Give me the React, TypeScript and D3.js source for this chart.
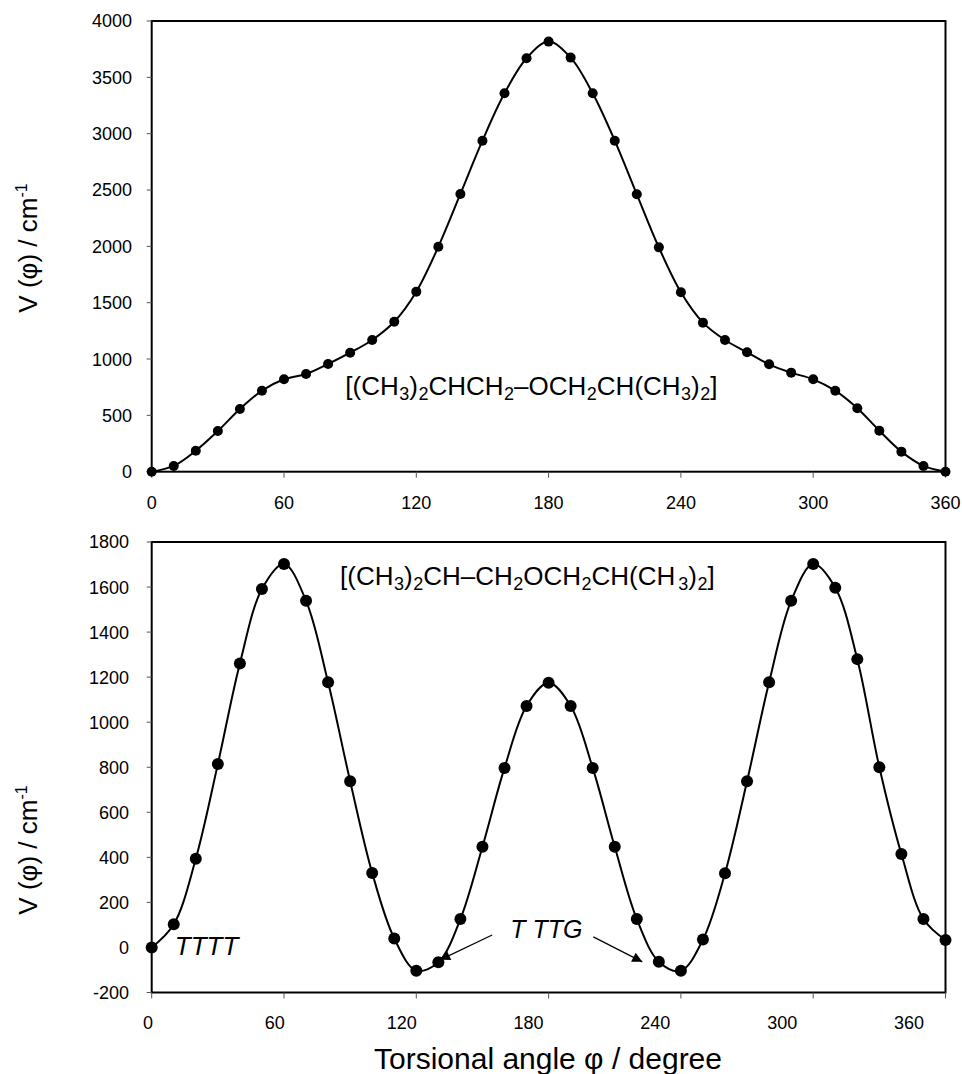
import React from "react";
import * as d3 from "d3";

const angles = [0, 10, 20, 30, 40, 50, 60, 70, 80, 90, 100, 110, 120, 130, 140, 150, 160, 170, 180, 190, 200, 210, 220, 230, 240, 250, 260, 270, 280, 290, 300, 310, 320, 330, 340, 350, 360];
const topValues = [0, 51, 186, 361, 556, 719, 820, 867, 956, 1056, 1169, 1331, 1598, 1997, 2465, 2938, 3358, 3669, 3817, 3675, 3358, 2938, 2462, 1991, 1592, 1323, 1169, 1060, 953, 879, 820, 719, 563, 364, 178, 51, 0];
const bottomValues = [0, 103, 394, 814, 1261, 1591, 1702, 1539, 1177, 738, 331, 40, -103, -66, 126, 447, 797, 1072, 1175, 1072, 797, 447, 126, -63, -103, 35, 329, 738, 1177, 1539, 1702, 1597, 1280, 800, 415, 126, 33];
const xTicks = [0, 60, 120, 180, 240, 300, 360];
const topYTicks = [0, 500, 1000, 1500, 2000, 2500, 3000, 3500, 4000];
const bottomYTicks = [-200, 0, 200, 400, 600, 800, 1000, 1200, 1400, 1600, 1800];
const topFormula: [string, boolean][] = [["[(CH", false], ["3", true], [")", false], ["2", true], ["CHCH", false], ["2", true], ["\u2013OCH", false], ["2", true], ["CH(CH", false], ["3", true], [")", false], ["2", true], ["]", false]];
const bottomFormula: [string, boolean][] = [["[(CH", false], ["3", true], [")", false], ["2", true], ["CH\u2013CH", false], ["2", true], ["OCH", false], ["2", true], ["CH(CH", false], ["3", true], [")", false], ["2", true], ["]", false]];

const FONT = "'Liberation Sans', Arial, Helvetica, sans-serif";
const X0 = 151.7, X1 = 945.5;

const x = d3.scaleLinear().domain([0, 360]).range([X0, X1]);
const xLabBottom = d3.scaleLinear().domain([0, 360]).range([148, 909]);
const yTop = d3.scaleLinear().domain([0, 4000]).range([471.7, 21]);
const yBot = d3.scaleLinear().domain([-200, 1800]).range([992.5, 542]);

function Formula({ parts, px, py }: { parts: [string, boolean][]; px: number; py: number }) {
  return (
    <text x={px} y={py} fontSize={26} fontFamily={FONT} fill="#000">
      {parts.map(([t, sub], i) =>
        sub ? (
          <tspan key={i} fontSize={18} dy={5} dx={i === 9 && parts === bottomFormula ? 3 : 0.5}>{t}</tspan>
        ) : (
          <tspan key={i} dy={i > 0 && parts[i - 1][1] ? -5 : 0}>{t}</tspan>
        )
      )}
    </text>
  );
}

function Panel({ values, y, yTicks, labelX, labelScale, labelY, r, titleY, tickLabelRight }: any) {
  const line = d3.line<number>().x((_, i) => x(angles[i])).y((v) => y(v)).curve(d3.curveCatmullRom.alpha(0.5));
  const [y0, y1] = y.range();
  return (
    <g>
      <rect x={X0} y={y1} width={X1 - X0} height={y0 - y1} fill="none" stroke="#000" strokeWidth={2} />
      {yTicks.map((t: number) => (
        <g key={t}>
          <line x1={X0 - 5} x2={X0} y1={y(t)} y2={y(t)} stroke="#555" strokeWidth={1} />
          <text x={tickLabelRight} y={y(t)} dy="0.36em" textAnchor="end" fontSize={18} fontFamily={FONT}>{t}</text>
        </g>
      ))}
      {xTicks.map((t) => (
        <g key={t}>
          <line x1={x(t)} x2={x(t)} y1={y0} y2={y0 + 6} stroke="#555" strokeWidth={1} />
          <text x={labelScale(t)} y={labelY} textAnchor="middle" fontSize={18} fontFamily={FONT}>{t}</text>
        </g>
      ))}
      <path d={line(values) || ""} fill="none" stroke="#000" strokeWidth={2} />
      {values.map((v: number, i: number) => (
        <circle key={i} cx={x(angles[i])} cy={y(v)} r={r} fill="#000" />
      ))}
      <text transform={`translate(${labelX},${titleY}) rotate(-90)`} textAnchor="middle" fontSize={26} fontFamily={FONT}>
        V (φ) / cm<tspan fontSize={16} dy={-10}>-1</tspan>
      </text>
    </g>
  );
}

export default function App() {
  return (
    <svg width={962} height={1074} style={{ position: "absolute", left: 0, top: 0, background: "#fff" }}>
      <defs>
        <marker id="ah" viewBox="0 0 10 10" refX="10" refY="5" markerWidth="14" markerHeight="10" markerUnits="userSpaceOnUse" orient="auto">
          <path d="M0,0 L10,5 L0,10 z" fill="#000" />
        </marker>
      </defs>
      <Panel values={topValues} y={yTop} yTicks={topYTicks} labelX={37} labelScale={x} labelY={508.5} r={5} titleY={248} tickLabelRight={132} />
      <Panel values={bottomValues} y={yBot} yTicks={bottomYTicks} labelX={37} labelScale={xLabBottom} labelY={1029} r={6} titleY={850} tickLabelRight={129} />
      <Formula parts={topFormula} px={x(87.8)} py={yTop(681)} />
      <Formula parts={bottomFormula} px={x(85.4)} py={yBot(1609)} />
      <text x={x(10.5)} y={yBot(-33)} fontSize={26} fontStyle="italic" fontFamily={FONT}>TTTT</text>
      <text x={x(162.6)} y={yBot(42)} fontSize={25} fontStyle="italic" fontFamily={FONT}>T TTG</text>
      <line x1={x(154.4)} y1={yBot(55)} x2={x(130.8)} y2={yBot(-55)} stroke="#000" strokeWidth={1.2} markerEnd="url(#ah)" />
      <line x1={x(200.3)} y1={yBot(47)} x2={x(222.5)} y2={yBot(-64)} stroke="#000" strokeWidth={1.2} markerEnd="url(#ah)" />
      <text x={548} y={1069} textAnchor="middle" fontSize={30} fontFamily={FONT}>Torsional angle φ / degree</text>
    </svg>
  );
}
